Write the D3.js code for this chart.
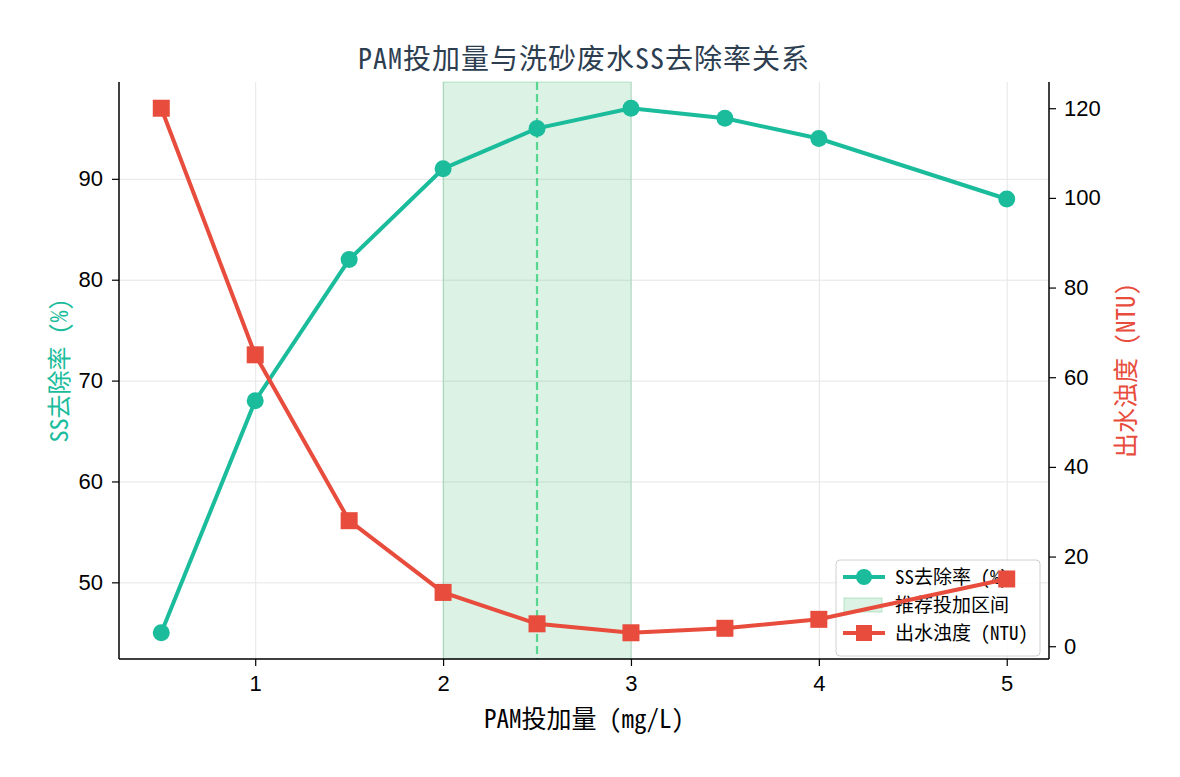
<!DOCTYPE html>
<html>
<head>
<meta charset="utf-8">
<script src="https://cdn.jsdelivr.net/npm/d3@7"></script>
<style>
  body { margin: 0; background: #fff; }
  text { font-family: "Noto Sans Mono CJK SC", "Noto Sans CJK SC", "DejaVu Sans", sans-serif; }
  .grid line { stroke: #e6e6e6; stroke-width: 1; }
  .grid path { display: none; }
  .axis text { font-size: 22px; fill: #000; font-family: "Liberation Sans", Arial, sans-serif; }
</style>
</head>
<body>
<div id="chart"></div>
<script>
// dosage (mg/L)
var dose = [0.5, 1, 1.5, 2, 2.5, 3, 3.5, 4, 5];
// SS removal rate (%)
var removal = [45, 68, 82, 91, 95, 97, 96, 94, 88];
// effluent turbidity (NTU)
var turbidity = [120, 65, 28, 12, 5, 3, 4, 6, 15];
var xTicks = [1, 2, 3, 4, 5];
var yLeftTicks = [50, 60, 70, 80, 90];
var yRightTicks = [0, 20, 40, 60, 80, 100, 120];
var bestRange = [2, 3];
var bestDose = 2.5;

function init() {
    var w = 1180, h = 777;
    var left = 119, right = 1049, top = 82, bottom = 659;
    var green = "#1abc9c", red = "#e74c3c";

    var svg = d3.select("#chart").append("svg")
        .attr("width", w).attr("height", h);

    var xScale = d3.scaleLinear().domain([0.275, 5.225]).range([left, right]);
    var yL = d3.scaleLinear().domain([42.4, 99.6]).range([bottom, top]);
    var yR = d3.scaleLinear().domain([-2.85, 125.85]).range([bottom, top]);

    //grid
    svg.append("g").attr("class", "grid")
        .attr("transform", "translate(0," + bottom + ")")
        .call(d3.axisBottom(xScale).tickValues(xTicks).tickSize(-(bottom - top)).tickFormat(""));
    svg.append("g").attr("class", "grid")
        .attr("transform", "translate(" + left + ",0)")
        .call(d3.axisLeft(yL).tickValues(yLeftTicks).tickSize(-(right - left)).tickFormat(""));

    //recommended range
    svg.append("rect")
        .attr("x", xScale(bestRange[0]))
        .attr("y", top)
        .attr("width", xScale(bestRange[1]) - xScale(bestRange[0]))
        .attr("height", bottom - top)
        .attr("fill", "#27ae60").attr("fill-opacity", 0.16)
        .attr("stroke", "#27ae60").attr("stroke-opacity", 0.3);
    svg.append("line")
        .attr("x1", xScale(bestDose)).attr("x2", xScale(bestDose))
        .attr("y1", top).attr("y2", bottom)
        .attr("stroke", "#2ecc71").attr("stroke-opacity", 0.75)
        .attr("stroke-width", 2.2).attr("stroke-dasharray", "8,4");

    //SS removal line
    var line1 = d3.line()
        .x(function(d, i) { return xScale(dose[i]); })
        .y(function(d) { return yL(d); });
    svg.append("path").datum(removal)
        .attr("d", line1).attr("fill", "none")
        .attr("stroke", green).attr("stroke-width", 4);
    svg.selectAll(".dot").data(removal).enter().append("circle")
        .attr("cx", function(d, i) { return xScale(dose[i]); })
        .attr("cy", function(d) { return yL(d); })
        .attr("r", 8.5).attr("fill", green);

    //axes
    var axB = svg.append("g").attr("class", "axis")
        .attr("transform", "translate(0," + bottom + ")")
        .call(d3.axisBottom(xScale).tickValues(xTicks).tickSize(7).tickPadding(9).tickFormat(d3.format("d")));
    var axL = svg.append("g").attr("class", "axis")
        .attr("transform", "translate(" + left + ",0)")
        .call(d3.axisLeft(yL).tickValues(yLeftTicks).tickSize(7).tickPadding(9));
    var axR = svg.append("g").attr("class", "axis")
        .attr("transform", "translate(" + right + ",0)")
        .call(d3.axisRight(yR).tickValues(yRightTicks).tickSize(7).tickPadding(8));
    [axB, axL, axR].forEach(function(a) {
        a.select(".domain").attr("stroke", "#000").attr("stroke-width", 1.5);
        a.selectAll(".tick line").attr("stroke", "#000").attr("stroke-width", 1.2);
    });
    axB.select(".domain").attr("d", "M" + left + ",0H" + right);
    axL.select(".domain").attr("d", "M0," + top + "V" + bottom);
    axR.select(".domain").attr("d", "M0," + top + "V" + bottom);

    //legend
    var lg = svg.append("g").attr("transform", "translate(836,560)");
    lg.append("rect").attr("width", 204).attr("height", 96).attr("rx", 4)
        .attr("fill", "#fff").attr("fill-opacity", 0.8)
        .attr("stroke", "#d0d0d0");
    var items = [
        { label: "SS去除率 (%)", type: "circle", color: green },
        { label: "推荐投加区间", type: "patch" },
        { label: "出水浊度 (NTU)", type: "square", color: red }
    ];
    items.forEach(function(it, i) {
        var y = 17 + i * 28;
        if (it.type == "patch") {
            lg.append("rect").attr("x", 8).attr("y", y - 7).attr("width", 38).attr("height", 14)
                .attr("fill", "#27ae60").attr("fill-opacity", 0.16)
                .attr("stroke", "#27ae60").attr("stroke-opacity", 0.3);
        } else {
            lg.append("line").attr("x1", 7).attr("x2", 49).attr("y1", y).attr("y2", y)
                .attr("stroke", it.color).attr("stroke-width", 4);
            if (it.type == "circle") {
                lg.append("circle").attr("cx", 28).attr("cy", y).attr("r", 8).attr("fill", it.color);
            } else {
                lg.append("rect").attr("x", 20).attr("y", y - 8).attr("width", 16).attr("height", 16).attr("fill", it.color);
            }
        }
        lg.append("text").attr("x", 59).attr("y", y + 7)
            .attr("font-size", 19).attr("fill", "#000").text(it.label);
    });

    //turbidity line (twin axis, drawn on top)
    var line2 = d3.line()
        .x(function(d, i) { return xScale(dose[i]); })
        .y(function(d) { return yR(d); });
    svg.append("path").datum(turbidity)
        .attr("d", line2).attr("fill", "none")
        .attr("stroke", red).attr("stroke-width", 4);
    svg.selectAll(".sq").data(turbidity).enter().append("rect")
        .attr("x", function(d, i) { return xScale(dose[i]) - 8.5; })
        .attr("y", function(d) { return yR(d) - 8.5; })
        .attr("width", 17).attr("height", 17).attr("fill", red);

    //titles
    svg.append("text").attr("x", (left + right) / 2).attr("y", 69)
        .attr("text-anchor", "middle").attr("font-size", 28).attr("fill", "#2c3e50")
        .attr("letter-spacing", 1)
        .text("PAM投加量与洗砂废水SS去除率关系");
    svg.append("text").attr("x", (left + right) / 2).attr("y", 728)
        .attr("text-anchor", "middle").attr("font-size", 25).attr("fill", "#000")
        .text("PAM投加量 (mg/L)");
    svg.append("text")
        .attr("transform", "translate(68," + ((top + bottom) / 2) + ") rotate(-90)")
        .attr("text-anchor", "middle").attr("font-size", 24).attr("fill", green)
        .text("SS去除率 (%)");
    svg.append("text")
        .attr("transform", "translate(1135," + ((top + bottom) / 2) + ") rotate(-90)")
        .attr("text-anchor", "middle").attr("font-size", 25).attr("fill", red)
        .text("出水浊度 (NTU)");
}
window.onload = init;
</script>
</body>
</html>
